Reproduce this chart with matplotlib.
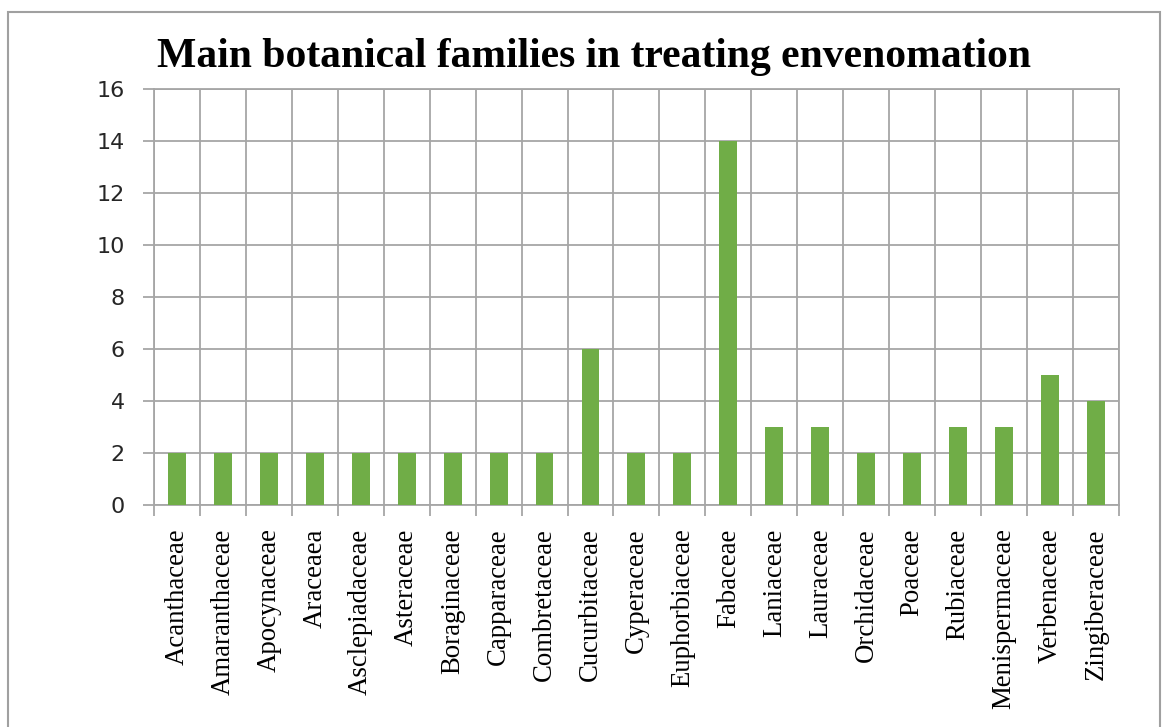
import matplotlib
matplotlib.use('Agg')
import matplotlib.pyplot as plt
from matplotlib.patches import Rectangle
import numpy as np

families = ['Acanthaceae', 'Amaranthaceae', 'Apocynaceae', 'Araceaea', 'Asclepiadaceae',
            'Asteraceae', 'Boraginaceae', 'Capparaceae', 'Combretaceae', 'Cucurbitaceae',
            'Cyperaceae', 'Euphorbiaceae', 'Fabaceae', 'Laniaceae', 'Lauraceae',
            'Orchidaceae', 'Poaceae', 'Rubiaceae', 'Menispermaceae', 'Verbenaceae',
            'Zingiberaceae']
counts = [2, 2, 2, 2, 2, 2, 2, 2, 2, 6, 2, 2, 14, 3, 3, 2, 2, 3, 3, 5, 4]
y_ticks = [0, 2, 4, 6, 8, 10, 12, 14, 16]

grid_col = '#a6a6a6'
bar_col = '#70ad47'

fig = plt.figure(figsize=(11.68, 7.27), dpi=100)
ax = fig.add_axes([0.1318, 0.3054, 0.8262, 0.5722])

x = np.arange(len(families))
ax.bar(x, counts, width=0.39, color=bar_col, zorder=3)

ax.set_xlim(-0.5, len(families) - 0.5)
ax.set_ylim(0, 16)
ax.set_yticks(y_ticks)
ax.set_yticklabels([str(v) for v in y_ticks], fontsize=16, family='DejaVu Sans', color='#262626')

# category boundaries carry the ticks and vertical grid lines
ax.set_xticks(np.arange(len(families) + 1) - 0.5)
ax.set_xticklabels([])
ax.set_xticks(x, minor=True)
ax.set_xticklabels(families, minor=True, rotation=90, fontsize=19.3,
                   family='Liberation Serif', va='top', ha='center')
ax.tick_params(axis='x', which='minor', length=0, pad=17)
ax.tick_params(axis='x', which='major', length=8, width=1.3, color=grid_col)
ax.tick_params(axis='y', length=8, width=1.3, color=grid_col, pad=13)

ax.grid(True, which='major', color=grid_col, linewidth=1.3, zorder=0)
for s in ax.spines.values():
    s.set_color(grid_col)
    s.set_linewidth(1.3)

fig.text(0.5086, 0.922, 'Main botanical families in treating envenomation',
         ha='center', va='center', fontsize=30, fontweight='bold', family='Liberation Serif')

# outer chart border
fig.patches.append(Rectangle((8 / 1168, -0.05), 1152 / 1168, 1.05 - 12 / 727,
                             transform=fig.transFigure, fill=False,
                             edgecolor='#a0a0a0', linewidth=1.5))

fig.savefig('out.png', dpi=100)
